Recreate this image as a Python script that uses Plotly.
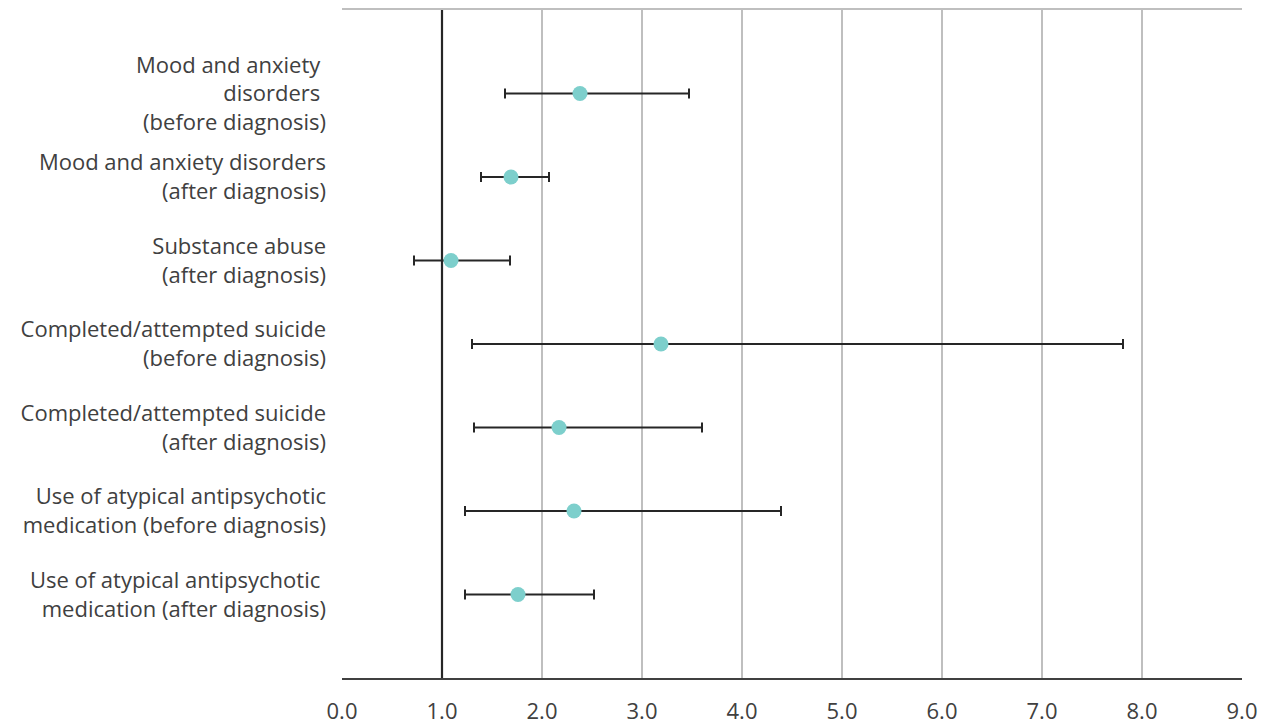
import plotly.graph_objects as go

categories = [
    "Mood and anxiety\u00a0<br>disorders\u00a0<br>(before diagnosis)",
    "Mood and anxiety disorders<br>(after diagnosis)",
    "Substance abuse<br>(after diagnosis)",
    "Completed/attempted suicide<br>(before diagnosis)",
    "Completed/attempted suicide<br>(after diagnosis)",
    "Use of atypical antipsychotic<br>medication (before diagnosis)",
    "Use of atypical antipsychotic\u00a0<br>medication (after diagnosis)",
]
odds_ratio = [2.38, 1.69, 1.09, 3.19, 2.17, 2.32, 1.76]
ci_lower = [1.63, 1.39, 0.72, 1.30, 1.32, 1.23, 1.23]
ci_upper = [3.47, 2.07, 1.68, 7.81, 3.60, 4.39, 2.52]
x_ticks = [0, 1, 2, 3, 4, 5, 6, 7, 8, 9]
x_tick_labels = ["0.0", "1.0", "2.0", "3.0", "4.0", "5.0", "6.0", "7.0", "8.0", "9.0"]
reference_value = 1.0

err_plus = [u - o for u, o in zip(ci_upper, odds_ratio)]
err_minus = [o - l for o, l in zip(odds_ratio, ci_lower)]

FONT = "Open Sans"
TEXT = "#404040"

fig = go.Figure()
fig.add_trace(go.Scatter(
    x=odds_ratio,
    y=categories,
    mode="markers",
    marker=dict(color="#7dcfcc", size=15, line=dict(width=0)),
    error_x=dict(type="data", symmetric=False, array=err_plus, arrayminus=err_minus,
                 color="#262626", thickness=2, width=5),
    showlegend=False,
    hoverinfo="x+y",
))
# invisible trace to carry the top border axis
fig.add_trace(go.Scatter(x=[None], y=[None], xaxis="x2", showlegend=False, hoverinfo="skip"))

fig.add_vline(x=reference_value, line=dict(color="#262626", width=2.2), layer="above")

fig.update_layout(
    width=1261, height=724,
    margin=dict(l=342, r=18.5, t=10, b=46, autoexpand=False),
    paper_bgcolor="white", plot_bgcolor="white",
    font=dict(family=FONT, size=22, color=TEXT),
    xaxis=dict(
        range=[0, 9], tickvals=x_ticks, ticktext=x_tick_labels,
        showgrid=True, gridcolor="#bfbfbf", gridwidth=1.5,
        zeroline=False, showline=True, linecolor="#404040", linewidth=2,
        ticks="", ticklabelstandoff=13, automargin=False,
        tickfont=dict(family=FONT, size=22, color=TEXT),
    ),
    xaxis2=dict(
        range=[0, 9], overlaying="x", side="top", showline=True,
        linecolor="#bfbfbf", linewidth=1.5, showticklabels=False,
        showgrid=False, zeroline=False, ticks="", automargin=False,
    ),
    yaxis=dict(
        type="category", categoryorder="array", categoryarray=categories,
        range=[6.999, -1], showgrid=False, zeroline=False, showline=False,
        ticks="", ticklabelstandoff=15, automargin=False,
        tickfont=dict(family=FONT, size=22, color=TEXT),
    ),
)

fig.write_html(
    "out.html",
    config={"displayModeBar": False},
    post_script="document.body.style.margin='0';document.body.style.overflow='hidden';",
)
